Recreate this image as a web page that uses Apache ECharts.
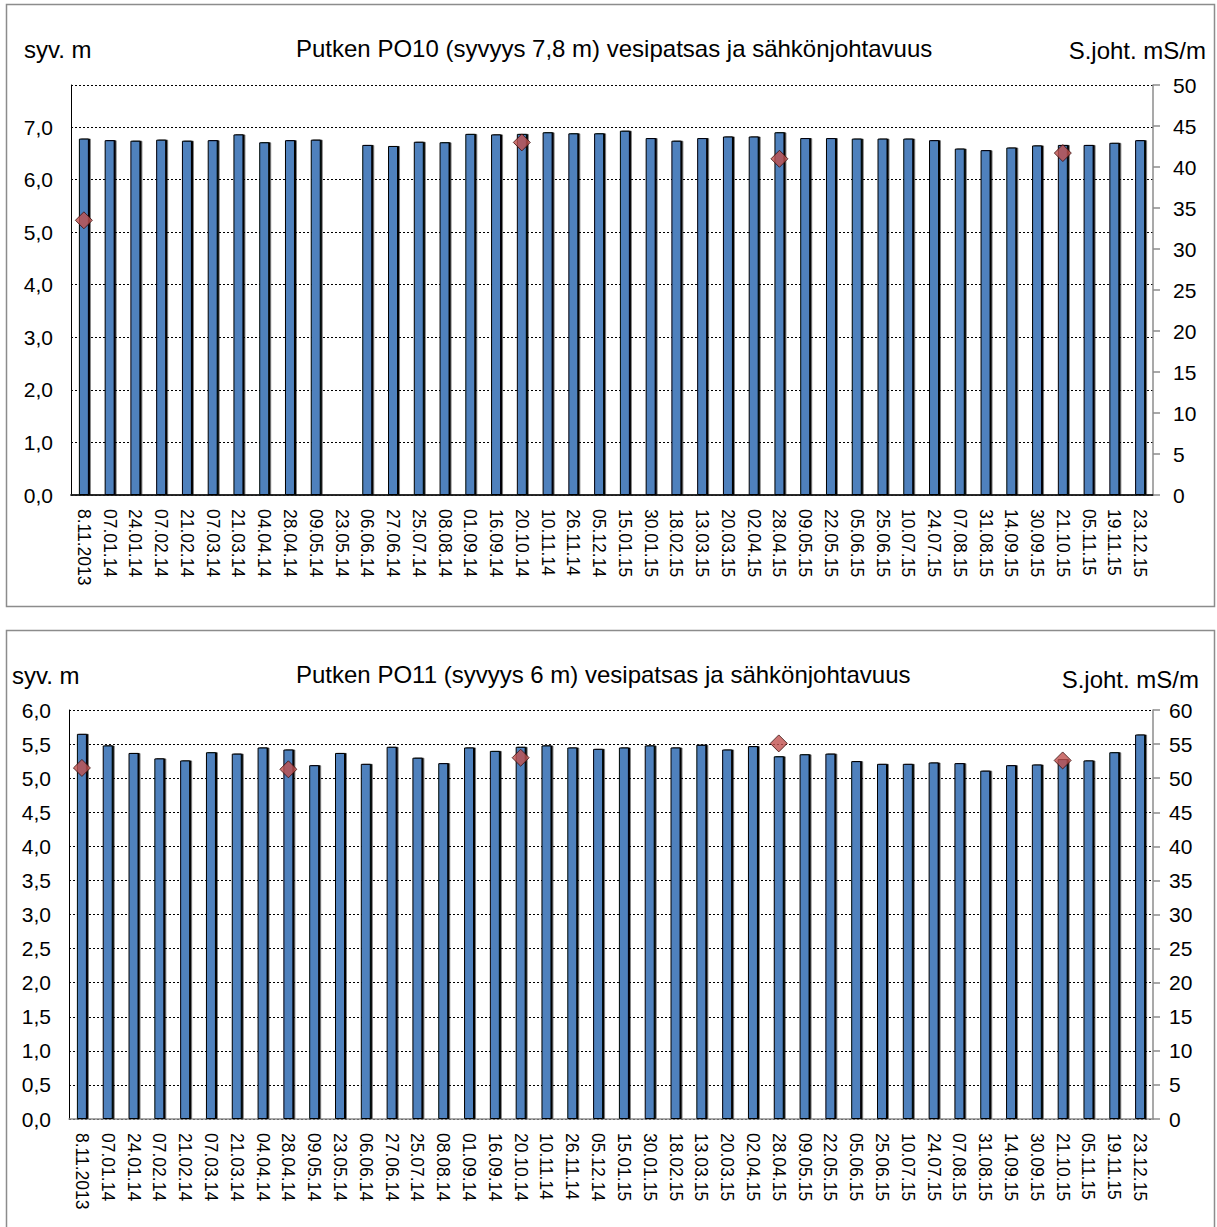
<!DOCTYPE html>
<html>
<head>
<meta charset="utf-8">
<title>PO10 / PO11 vesipatsas ja sähkönjohtavuus</title>
<script src="https://cdn.jsdelivr.net/npm/echarts@6/dist/echarts.min.js"></script>
<style>
  html, body { margin: 0; padding: 0; background: #fff; }
  #chart { width: 1217px; height: 1227px; }
</style>
</head>
<body>
<div id="chart"></div>
<script>
// Measurement dates (shared by both wells)
const dates = [
  '8.11.2013', '07.01.14', '24.01.14', '07.02.14', '21.02.14', '07.03.14', '21.03.14',
  '04.04.14', '28.04.14', '09.05.14', '23.05.14', '06.06.14', '27.06.14', '25.07.14',
  '08.08.14', '01.09.14', '16.09.14', '20.10.14', '10.11.14', '26.11.14', '05.12.14',
  '15.01.15', '30.01.15', '18.02.15', '13.03.15', '20.03.15', '02.04.15', '28.04.15',
  '09.05.15', '22.05.15', '05.06.15', '25.06.15', '10.07.15', '24.07.15', '07.08.15',
  '31.08.15', '14.09.15', '30.09.15', '21.10.15', '05.11.15', '19.11.15', '23.12.15'
];

// PO10: water column (m) and electrical conductivity (mS/m)
const po10Depth = [
  6.78, 6.75, 6.74, 6.76, 6.74, 6.75, 6.86, 6.71, 6.75, 6.76, null, 6.66, 6.64, 6.72,
  6.71, 6.87, 6.86, 6.87, 6.90, 6.88, 6.88, 6.93, 6.79, 6.74, 6.79, 6.82, 6.82, 6.90,
  6.79, 6.79, 6.78, 6.78, 6.78, 6.75, 6.59, 6.56, 6.61, 6.65, 6.66, 6.66, 6.70, 6.75
];
const po10Cond = [
  33.5, null, null, null, null, null, null, null, null, null, null, null, null, null,
  null, null, null, 43.0, null, null, null, null, null, null, null, null, null, 41.0,
  null, null, null, null, null, null, null, null, null, null, 41.7, null, null, null
];

// PO11: water column (m) and electrical conductivity (mS/m)
const po11Depth = [
  5.65, 5.48, 5.37, 5.29, 5.26, 5.38, 5.36, 5.45, 5.42, 5.19, 5.37, 5.21, 5.46, 5.30,
  5.22, 5.45, 5.40, 5.46, 5.48, 5.45, 5.43, 5.45, 5.48, 5.45, 5.49, 5.42, 5.47, 5.32,
  5.35, 5.36, 5.25, 5.21, 5.21, 5.23, 5.22, 5.11, 5.19, 5.20, 5.28, 5.26, 5.38, 5.64
];
const po11Cond = [
  51.5, null, null, null, null, null, null, null, 51.3, null, null, null, null, null,
  null, null, null, 53.0, null, null, null, null, null, null, null, null, null, 55.1,
  null, null, null, null, null, null, null, null, null, null, 52.6, null, null, null
];

const FONT = '"Liberation Sans", Arial, sans-serif';
const HEAD_FONT = '24px ' + FONT;
const comma = v => v.toFixed(1).replace('.', ',');

const grids = [
  { left: 71, right: 64, top: 85, height: 410 },
  { left: 69, right: 64, top: 710, height: 409 }
];

function catAxis(gridIndex) {
  return {
    type: 'category', gridIndex, data: dates, position: 'bottom',
    axisLine: { lineStyle: { color: '#8c8c8c', width: 1.5 } },
    axisTick: { show: false },
    axisLabel: { rotate: -90, fontSize: 17.5, color: '#000', fontFamily: FONT, margin: 14, interval: 0 },
    splitLine: { show: false }
  };
}

function leftAxis(gridIndex, max, interval, hideMax) {
  return {
    type: 'value', gridIndex, position: 'left', min: 0, max, interval,
    axisLine: { show: true, lineStyle: { color: '#000', width: 1 } },
    axisTick: { show: false },
    axisLabel: {
      fontSize: 21, color: '#000', fontFamily: FONT, margin: 18,
      showMaxLabel: !hideMax,
      formatter: v => comma(v)
    },
    splitLine: { show: true, lineStyle: { color: '#000', width: 1, type: [2, 2] } }
  };
}

function rightAxis(gridIndex, max, margin) {
  return {
    type: 'value', gridIndex, position: 'right', min: 0, max, interval: 5,
    axisLine: { show: true, lineStyle: { color: '#8c8c8c', width: 1.5 } },
    axisTick: { show: true, inside: false, length: 7, lineStyle: { color: '#8c8c8c', width: 1.5 } },
    axisLabel: { fontSize: 21, color: '#000', fontFamily: FONT, margin },
    splitLine: { show: false }
  };
}

const barStyle = {
  color: '#4F81BD',
  borderColor: '#000',
  borderWidth: 1,
  shadowColor: '#000',
  shadowOffsetX: 1.5,
  shadowOffsetY: 0,
  shadowBlur: 0
};
const diamond = {
  type: 'scatter', symbol: 'diamond', symbolSize: [17, 17],
  itemStyle: { color: '#C0504D', borderColor: '#3a0f0e', borderWidth: 1 },
  z: 5
};

const option = {
  animation: false,
  backgroundColor: '#fff',
  textStyle: { fontFamily: FONT },
  grid: grids,
  xAxis: [
    catAxis(0),
    // solid upper frame line of the first plot
    {
      type: 'category', gridIndex: 0, data: dates, position: 'top',
      axisLine: { show: true, lineStyle: { color: '#000', width: 1.5 } },
      axisTick: { show: false }, axisLabel: { show: false }, splitLine: { show: false }
    },
    catAxis(1)
  ],
  yAxis: [
    leftAxis(0, 7.8, 1, true),
    rightAxis(0, 50, 20),
    leftAxis(1, 6, 0.5, false),
    rightAxis(1, 60, 16)
  ],
  series: [
    { type: 'bar', name: 'PO10 vesipatsas', xAxisIndex: 0, yAxisIndex: 0, data: po10Depth, barWidth: 10, itemStyle: barStyle },
    Object.assign({ name: 'PO10 sähkönjohtavuus', xAxisIndex: 0, yAxisIndex: 1, data: po10Cond }, diamond),
    { type: 'bar', name: 'PO11 vesipatsas', xAxisIndex: 2, yAxisIndex: 2, data: po11Depth, barWidth: 10, itemStyle: barStyle },
    Object.assign({ name: 'PO11 sähkönjohtavuus', xAxisIndex: 2, yAxisIndex: 3, data: po11Cond }, diamond)
  ],
  graphic: [
    // outer frames
    { type: 'rect', shape: { x: 6.5, y: 4.5, width: 1208, height: 602 }, style: { fill: 'none', stroke: '#8c8c8c', lineWidth: 1.5 }, silent: true },
    { type: 'rect', shape: { x: 6.5, y: 630.5, width: 1208, height: 620 }, style: { fill: 'none', stroke: '#8c8c8c', lineWidth: 1.5 }, silent: true },
    // headings of the PO10 chart
    { type: 'text', x: 24, y: 49, style: { text: 'syv. m', font: HEAD_FONT, fill: '#000', textAlign: 'left', textVerticalAlign: 'middle' } },
    { type: 'text', x: 296, y: 48, style: { text: 'Putken PO10 (syvyys 7,8 m) vesipatsas ja sähkönjohtavuus', font: HEAD_FONT, fill: '#000', textAlign: 'left', textVerticalAlign: 'middle' } },
    { type: 'text', x: 1206, y: 50, style: { text: 'S.joht. mS/m', font: HEAD_FONT, fill: '#000', textAlign: 'right', textVerticalAlign: 'middle' } },
    // headings of the PO11 chart
    { type: 'text', x: 12, y: 675, style: { text: 'syv. m', font: HEAD_FONT, fill: '#000', textAlign: 'left', textVerticalAlign: 'middle' } },
    { type: 'text', x: 296, y: 674, style: { text: 'Putken PO11 (syvyys 6 m) vesipatsas ja sähkönjohtavuus', font: HEAD_FONT, fill: '#000', textAlign: 'left', textVerticalAlign: 'middle' } },
    { type: 'text', x: 1199, y: 679, style: { text: 'S.joht. mS/m', font: HEAD_FONT, fill: '#000', textAlign: 'right', textVerticalAlign: 'middle' } }
  ]
};

const chart = echarts.init(document.getElementById('chart'), null, { renderer: 'svg' });
chart.setOption(option);
</script>
</body>
</html>
